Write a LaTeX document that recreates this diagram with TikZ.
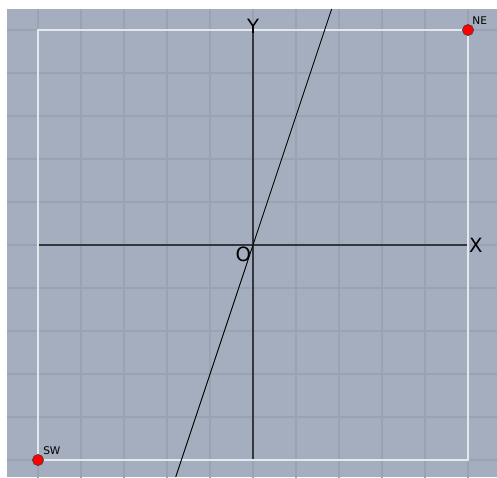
\documentclass[tikz,border=0pt]{standalone}
\usepackage{fontspec}
\setsansfont{DejaVu Sans}
\usetikzlibrary{positioning}
\definecolor{planebg}{RGB}{164,174,191}
\definecolor{planegrid}{RGB}{153,163,180}
\definecolor{axisdark}{RGB}{52,55,62}
\definecolor{framewhite}{RGB}{228,232,238}

\begin{document}
\begin{tikzpicture}[font=\sffamily,
    gridline/.style={draw=planegrid,line width=1pt},
    axisline/.style={draw=axisdark,line width=1.1pt},
    corner/.style={circle,draw=black!75,fill=red,inner sep=0pt,minimum size=2.6mm},
    axislabel/.style={font=\sffamily\fontsize{13}{14}\selectfont,inner sep=1pt},
    cornerlabel/.style={font=\sffamily\fontsize{7}{8}\selectfont,inner sep=1pt}]
  \useasboundingbox (-5.884,-5.395) rectangle (5.674,5.698);
  \fill[planebg] (-5.721,-5.395) rectangle (5.674,5.488);
  % grid
  \begin{scope}
    \clip (-5.721,-5.395) rectangle (5.674,5.488);
    \foreach \k in {-5,...,5} {
      \draw[gridline] (\k,-6) -- (\k,6);
      \draw[gridline] (-6,\k) -- (6,\k);
    }
  \end{scope}
  \coordinate (O) at (0,0);
  \coordinate (SW) at (-5,-5);
  \coordinate (NE) at (5,5);
  \coordinate (xl) at (-5,0);
  \coordinate (xr) at (5,0);
  \coordinate (yb) at (0,-5);
  \coordinate (yt) at (0,5);
  \coordinate (lo) at (-1.798,-5.395);
  \coordinate (hi) at (1.829,5.488);
  % axes and frame
  \draw[axisline] (xl) -- (xr);
  \draw[axisline] (yb) -- (yt);
  \draw[framewhite,line width=1pt] (SW) rectangle (NE);
  \draw[black,line width=0.6pt] (lo) -- (hi);
  \node[corner] (swdot) at (SW) {};
  \node[corner] (nedot) at (NE) {};
  \node[axislabel,anchor=north east] (olabel) at (O) {O};
  \node[axislabel,anchor=west,inner sep=0.5pt] (xlabel) at (xr) {X};
  \node[axislabel,above=-3.5pt of yt] (ylabel) {Y};
  \node[cornerlabel,above right=0.08cm and 0.06cm of NE] (nelabel) {NE};
  \node[cornerlabel,above right=0.08cm and 0.08cm of SW] (swlabel) {SW};
\end{tikzpicture}
\end{document}
